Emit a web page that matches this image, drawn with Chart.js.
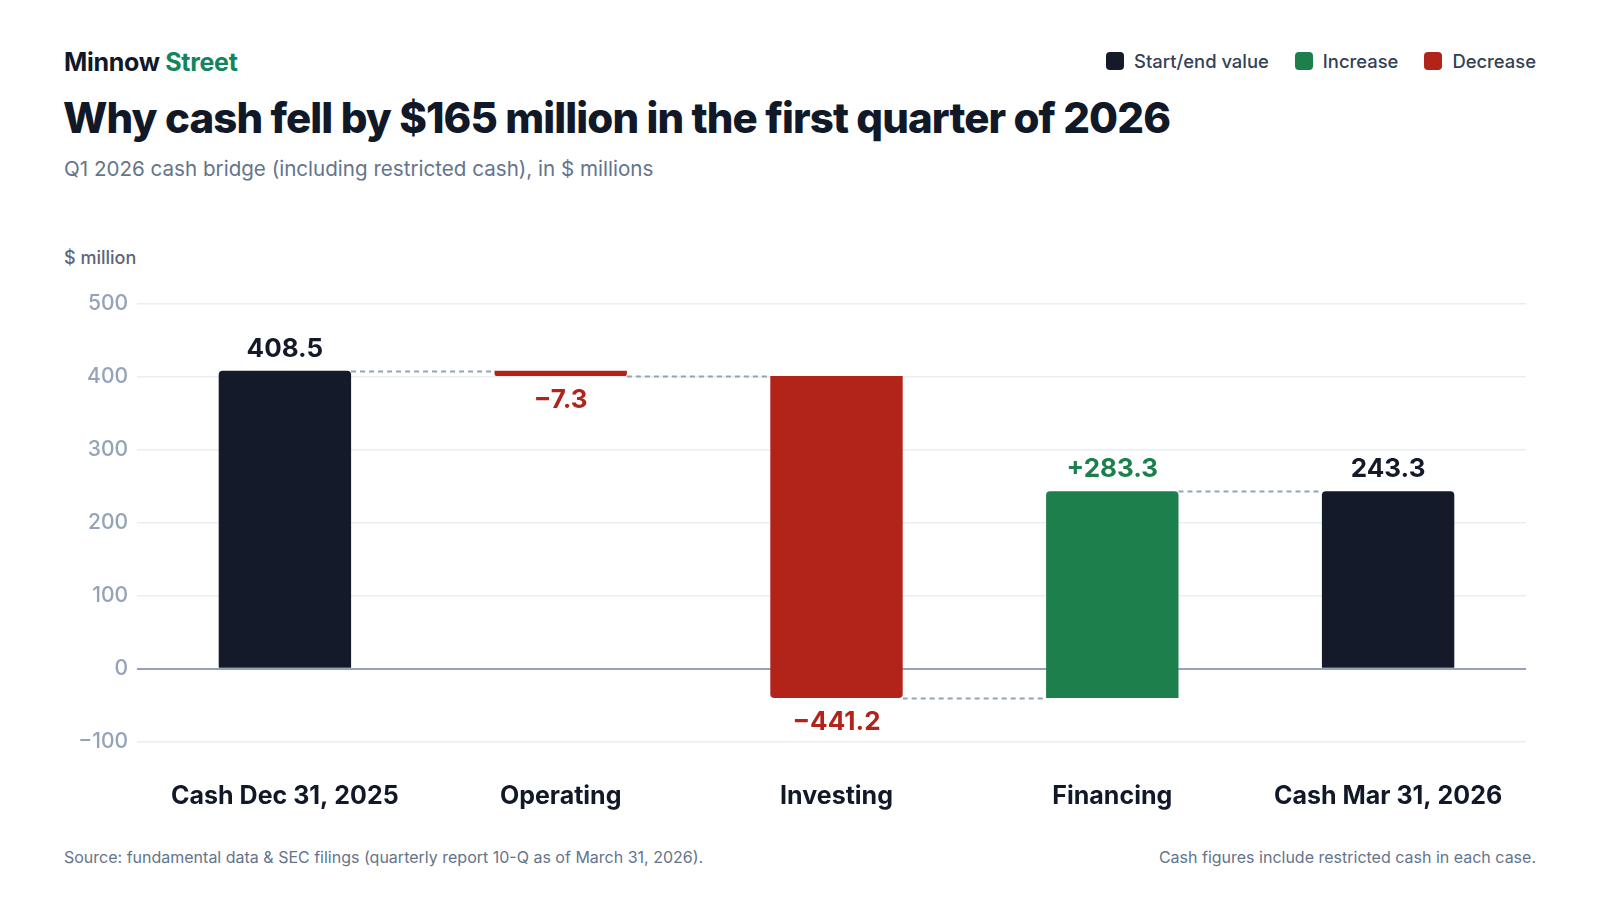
<!DOCTYPE html>
<html>
<head>
<meta charset="utf-8">
<script src="https://cdn.jsdelivr.net/npm/chart.js@4.4.1/dist/chart.umd.min.js"></script>
<style>
  html, body { margin: 0; padding: 0; background: #ffffff; }
  body { width: 1600px; height: 900px; position: relative; overflow: hidden; font-family: Inter, "Noto Sans", sans-serif; }
  #brand { position: absolute; left: 64px; top: 47px; font-size: 25px; font-weight: 700; color: #111827; letter-spacing: -0.3px; }
  #brand span { color: #13855c; }
  #title { position: absolute; left: 63px; top: 92px; font-size: 42px; font-weight: 800; color: #111827; letter-spacing: -0.9px; white-space: nowrap; }
  #subtitle { position: absolute; left: 64px; top: 156px; font-size: 20.6px; font-weight: 400; color: #64748b; white-space: nowrap; }
  #unit { position: absolute; left: 64px; top: 247px; font-size: 18px; font-weight: 500; color: #5b6577; }
  #legend { position: absolute; right: 64px; top: 50px; display: flex; align-items: center; gap: 26px; font-size: 18.4px; font-weight: 500; color: #334155; }
  .item { display: flex; align-items: center; gap: 10px; }
  .sw { width: 18px; height: 18px; border-radius: 4px; display: inline-block; }
  #footL { position: absolute; left: 64px; top: 847px; font-size: 16px; color: #64748b; }
  #footR { position: absolute; right: 64px; top: 847px; font-size: 16px; color: #64748b; }
  canvas { position: absolute; left: 0; top: 0; }
</style>
</head>
<body>
<div id="brand">Minnow <span>Street</span></div>
<div id="title">Why cash fell by $165 million in the first quarter of 2026</div>
<div id="subtitle">Q1 2026 cash bridge (including restricted cash), in $ millions</div>
<div id="unit">$ million</div>
<div id="legend"></div>
<div id="footL">Source: fundamental data &amp; SEC filings (quarterly report 10-Q as of March 31, 2026).</div>
<div id="footR">Cash figures include restricted cash in each case.</div>
<canvas id="c" width="1600" height="900"></canvas>
<script>
// ---- data ----
const categories = ['Cash Dec 31, 2025', 'Operating', 'Investing', 'Financing', 'Cash Mar 31, 2026'];
const values = [408.5, -7.3, -441.2, 283.3, 243.3];
const kinds = ['total', 'delta', 'delta', 'delta', 'total'];
const yTicks = [-100, 0, 100, 200, 300, 400, 500];
const legendLabels = ['Start/end value', 'Increase', 'Decrease'];

// ---- styling ----
const COLORS = { total: '#141a29', up: '#1c7f4c', down: '#b22419' };
const LABEL_COLORS = { total: '#141a29', up: '#1c7f4c', down: '#b22419' };

// build floating ranges
const ranges = [];
const types = [];
let running = 0;
values.forEach((v, i) => {
  if (kinds[i] === 'total') {
    ranges.push([0, v]);
    types.push('total');
    running = v;
  } else {
    ranges.push([running, running + v]);
    types.push(v >= 0 ? 'up' : 'down');
    running = running + v;
  }
});
const levels = ranges.map(r => r[1]);

// legend
const legendColors = [COLORS.total, COLORS.up, COLORS.down];
const lg = document.getElementById('legend');
legendLabels.forEach((t, i) => {
  const d = document.createElement('div');
  d.className = 'item';
  d.innerHTML = '<span class="sw" style="background:' + legendColors[i] + '"></span><span>' + t + '</span>';
  lg.appendChild(d);
});

function fmt(i) {
  const v = values[i];
  const s = Math.abs(v).toFixed(1);
  if (kinds[i] === 'total') return s;
  return (v >= 0 ? '+' : '\u2212') + s;
}

const connectorPlugin = {
  id: 'connectors',
  beforeDatasetsDraw(chart) {
    const meta = chart.getDatasetMeta(0);
    const y = chart.scales.y;
    const ctx = chart.ctx;
    ctx.save();
    ctx.strokeStyle = '#94a3b8';
    ctx.lineWidth = 1.8;
    ctx.setLineDash([5, 4]);
    for (let i = 0; i < meta.data.length - 1; i++) {
      const a = meta.data[i], b = meta.data[i + 1];
      const py = Math.round(y.getPixelForValue(levels[i])) + 0.5;
      ctx.beginPath();
      ctx.moveTo(a.x + a.width / 2, py);
      ctx.lineTo(b.x - b.width / 2, py);
      ctx.stroke();
    }
    ctx.restore();
  }
};

const labelPlugin = {
  id: 'valueLabels',
  afterDatasetsDraw(chart) {
    const meta = chart.getDatasetMeta(0);
    const y = chart.scales.y;
    const ctx = chart.ctx;
    ctx.save();
    ctx.font = '700 26px Inter, "Noto Sans", sans-serif';
    ctx.textAlign = 'center';
    ctx.textBaseline = 'alphabetic';
    meta.data.forEach((el, i) => {
      const t = types[i];
      ctx.fillStyle = LABEL_COLORS[t];
      const hi = Math.max(ranges[i][0], ranges[i][1]);
      const lo = Math.min(ranges[i][0], ranges[i][1]);
      if (t === 'down') {
        ctx.fillText(fmt(i), el.x, y.getPixelForValue(lo) + 32);
      } else {
        ctx.fillText(fmt(i), el.x, y.getPixelForValue(hi) - 14);
      }
    });
    ctx.restore();
  }
};

new Chart(document.getElementById('c'), {
  type: 'bar',
  data: {
    labels: categories,
    datasets: [{
      data: ranges,
      backgroundColor: types.map(t => COLORS[t]),
      borderWidth: 0,
      borderSkipped: false,
      borderRadius: (ctx) => {
        const t = types[ctx.dataIndex];
        return t === 'down'
          ? { topLeft: 0, topRight: 0, bottomLeft: 4, bottomRight: 4 }
          : { topLeft: 4, topRight: 4, bottomLeft: 0, bottomRight: 0 };
      },
      barPercentage: 0.48,
      categoryPercentage: 1.0
    }]
  },
  options: {
    responsive: false,
    animation: false,
    devicePixelRatio: 1,
    layout: { padding: { top: 304, left: 0, right: 74, bottom: 0 } },
    plugins: { legend: { display: false }, tooltip: { enabled: false } },
    scales: {
      x: {
        grid: { display: false, drawTicks: false },
        border: { display: false },
        ticks: {
          padding: 21,
          color: '#111827',
          font: { family: 'Inter', size: 25, weight: '700' },
          maxRotation: 0
        },
        afterFit(s) { s.height = 140; }
      },
      y: {
        min: -125,
        max: 500,
        afterBuildTicks(s) { s.ticks = yTicks.map(v => ({ value: v })); },
        grid: {
          drawTicks: true,
          tickLength: 10,
          color: (c) => (c.tick && c.tick.value === 0) ? '#94a3b8' : '#e9eef4',
          lineWidth: (c) => (c.tick && c.tick.value === 0) ? 2 : 1.5
        },
        border: { display: false },
        ticks: {
          padding: 9,
          color: '#94a3b8',
          font: { family: 'Inter', size: 21, weight: '500' },
          callback: (v) => v < 0 ? '\u2212' + Math.abs(v) : String(v)
        },
        afterFit(s) { s.width = 147; }
      }
    }
  },
  plugins: [connectorPlugin, labelPlugin]
});
</script>
</body>
</html>
